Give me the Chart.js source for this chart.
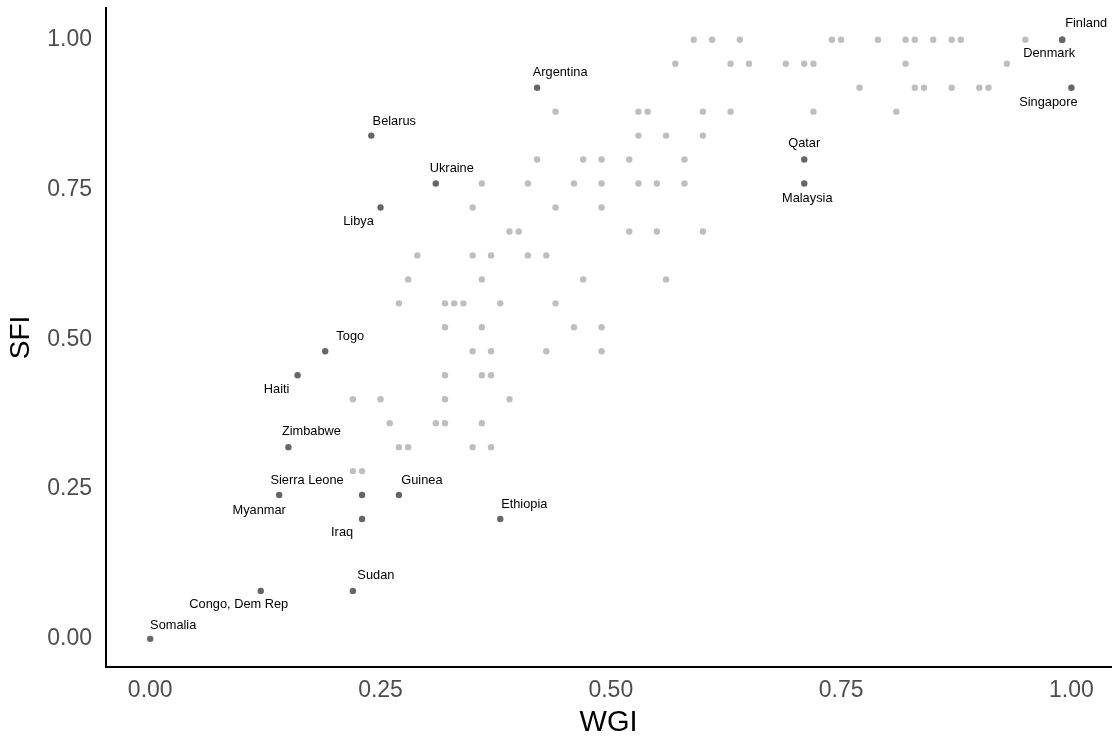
<!DOCTYPE html>
<html>
<head>
<meta charset="utf-8">
<script src="https://cdn.jsdelivr.net/npm/chart.js@4/dist/chart.umd.min.js"></script>
<style>
  html, body { margin: 0; padding: 0; background: #ffffff; }
  #wrap { width: 1119px; height: 740px; position: relative; }
</style>
</head>
<body>
<div id="wrap"><canvas id="c" width="1119" height="740"></canvas></div>
<script>
// ---- Data ----
const xTicks = [0, 0.25, 0.5, 0.75, 1.0];
const yTicks = [0, 0.25, 0.5, 0.75, 1.0];

// Unlabelled countries (light grey)
const grayWGI = [
  0.59,0.61,0.64,0.74,0.75,0.79,0.82,0.83,0.85,0.87,0.88,0.95,
  0.57,0.63,0.65,0.69,0.71,0.72,0.82,0.93,
  0.77,0.83,0.84,0.87,0.90,0.91,
  0.44,0.53,0.54,0.60,0.63,0.72,0.81,
  0.53,0.56,0.60,
  0.42,0.47,0.49,0.52,0.58,
  0.36,0.41,0.46,0.49,0.53,0.55,0.58,
  0.35,0.44,0.49,
  0.39,0.40,0.52,0.55,0.60,
  0.29,0.35,0.37,0.41,0.43,
  0.28,0.36,0.47,0.56,
  0.27,0.32,0.33,0.34,0.38,0.44,
  0.32,0.36,0.46,0.49,
  0.35,0.37,0.43,0.49,
  0.32,0.36,0.37,
  0.22,0.25,0.32,0.39,
  0.26,0.31,0.32,0.36,
  0.27,0.28,0.35,0.37,
  0.22,0.23
];
const graySFI = [
  1.00,1.00,1.00,1.00,1.00,1.00,1.00,1.00,1.00,1.00,1.00,1.00,
  0.96,0.96,0.96,0.96,0.96,0.96,0.96,0.96,
  0.92,0.92,0.92,0.92,0.92,0.92,
  0.88,0.88,0.88,0.88,0.88,0.88,0.88,
  0.84,0.84,0.84,
  0.80,0.80,0.80,0.80,0.80,
  0.76,0.76,0.76,0.76,0.76,0.76,0.76,
  0.72,0.72,0.72,
  0.68,0.68,0.68,0.68,0.68,
  0.64,0.64,0.64,0.64,0.64,
  0.60,0.60,0.60,0.60,
  0.56,0.56,0.56,0.56,0.56,0.56,
  0.52,0.52,0.52,0.52,
  0.48,0.48,0.48,0.48,
  0.44,0.44,0.44,
  0.40,0.40,0.40,0.40,
  0.36,0.36,0.36,0.36,
  0.32,0.32,0.32,0.32,
  0.28,0.28
];

// Labelled countries (dark grey)
const countries = ["Finland","Denmark","Singapore","Qatar","Malaysia","Argentina","Belarus","Ukraine","Libya","Togo","Haiti","Zimbabwe","Sierra Leone","Myanmar","Guinea","Iraq","Ethiopia","Sudan","Congo, Dem Rep","Somalia"];
const countryWGI = [0.99,0.99,1.00,0.71,0.71,0.42,0.24,0.31,0.25,0.19,0.16,0.15,0.23,0.14,0.27,0.23,0.38,0.22,0.12,0.00];
const countrySFI = [1.00,1.00,0.92,0.80,0.76,0.92,0.84,0.76,0.72,0.48,0.44,0.32,0.24,0.24,0.24,0.20,0.20,0.08,0.08,0.00];

// ---- Label placement (pixel offsets from the point; styling only) ----
const labelOffsets = {
  "Finland":[24,-16], "Denmark":[-13,14], "Singapore":[-23,15], "Qatar":[0,-16],
  "Malaysia":[3,15], "Argentina":[23,-15], "Belarus":[23,-14], "Ukraine":[16,-15],
  "Libya":[-22,14], "Togo":[25,-15], "Haiti":[-21,14], "Zimbabwe":[23,-16],
  "Sierra Leone":[-55,-15], "Myanmar":[-20,15], "Guinea":[23,-15], "Iraq":[-20,13],
  "Ethiopia":[24,-15], "Sudan":[23,-15], "Congo, Dem Rep":[-22,14], "Somalia":[23,-13]
};

const grayPts = grayWGI.map((x, i) => ({x: x, y: graySFI[i]}));
const darkPts = countryWGI.map((x, i) => ({x: x, y: countrySFI[i], name: countries[i]}));

const FONT = "'Liberation Sans', Arial, Helvetica, sans-serif";

const labelPlugin = {
  id: 'countryLabels',
  afterDatasetsDraw(chart) {
    const ctx = chart.ctx;
    const xs = chart.scales.x, ys = chart.scales.y;
    ctx.save();
    ctx.font = "12.8px " + FONT;
    ctx.fillStyle = "#000000";
    ctx.textAlign = "center";
    ctx.textBaseline = "middle";
    darkPts.forEach(p => {
      const off = labelOffsets[p.name] || [0, -14];
      ctx.fillText(p.name, xs.getPixelForValue(p.x) + off[0], ys.getPixelForValue(p.y) + off[1]);
    });
    ctx.restore();
  }
};

new Chart(document.getElementById('c'), {
  type: 'scatter',
  data: {
    datasets: [
      { data: grayPts, backgroundColor: '#bebebe', borderWidth: 0, pointRadius: 3.2, pointHoverRadius: 3.2 },
      { data: darkPts, backgroundColor: '#666666', borderWidth: 0, pointRadius: 3.2, pointHoverRadius: 3.2 }
    ]
  },
  options: {
    responsive: false,
    animation: false,
    events: [],
    layout: { padding: { top: 8, right: 8, left: 0, bottom: 0 } },
    plugins: { legend: { display: false }, tooltip: { enabled: false } },
    scales: {
      x: {
        type: 'linear',
        min: -0.048, max: 1.043,
        grid: { display: false, drawTicks: false },
        border: { display: true, color: '#000000', width: 2 },
        afterBuildTicks: s => { s.ticks = xTicks.map(v => ({value: v})); },
        afterFit: s => { s.height = 73; s.paddingLeft = 0; s.paddingRight = 0; },
        ticks: {
          padding: 10,
          color: '#4d4d4d',
          font: { family: FONT, size: 23 },
          callback: v => Number(v).toFixed(2)
        },
        title: { display: true, text: 'WGI', color: '#000000', font: { family: FONT, size: 29 }, padding: { top: 0, bottom: 0 } }
      },
      y: {
        type: 'linear',
        min: -0.047, max: 1.053,
        grid: { display: false, drawTicks: false },
        border: { display: true, color: '#000000', width: 2 },
        afterBuildTicks: s => { s.ticks = yTicks.map(v => ({value: v})); },
        afterFit: s => { s.width = 106; s.paddingTop = 0; s.paddingBottom = 0; },
        ticks: {
          padding: 14,
          color: '#4d4d4d',
          font: { family: FONT, size: 23 },
          callback: v => Number(v).toFixed(2)
        },
        title: { display: true, text: 'SFI', color: '#000000', font: { family: FONT, size: 28 }, padding: { top: 4, bottom: 0 } }
      }
    }
  },
  plugins: [labelPlugin]
});
</script>
</body>
</html>
